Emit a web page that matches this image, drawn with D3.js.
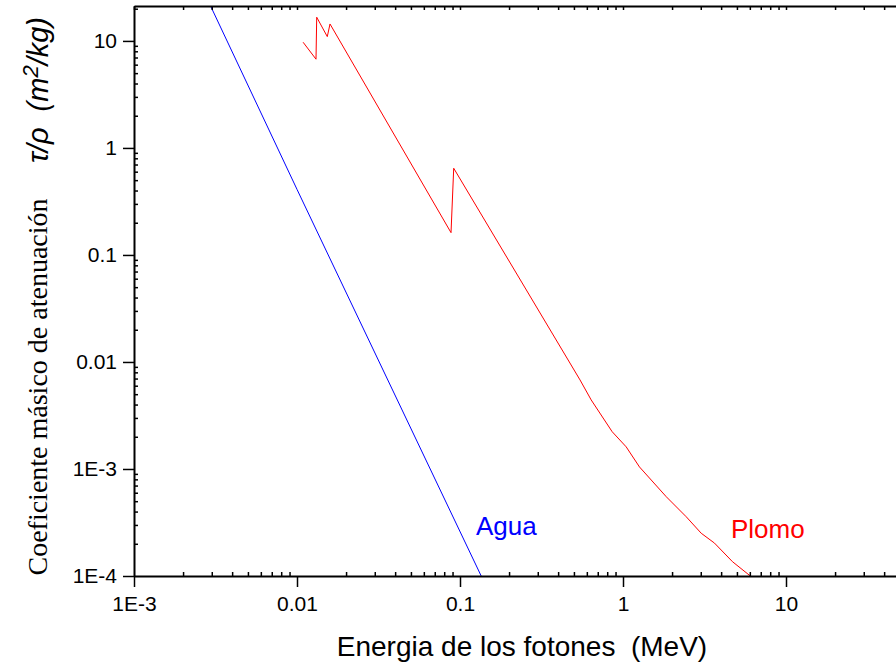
<!DOCTYPE html>
<html>
<head>
<meta charset="utf-8">
<script src="https://cdn.jsdelivr.net/npm/d3@7"></script>
<style>
  body { margin: 0; background: #fff; }
  text { font-family: "Liberation Sans", Arial, sans-serif; }
</style>
</head>
<body>
<div class="canvas"></div>
<script>
// data
const aguaEnergy = [0.00295, 0.01, 0.1349];
const aguaCoef = [21.2, 0.41, 1e-4];

const plomoEnergy = [0.0109, 0.01308, 0.01321, 0.01534, 0.01594, 0.0881, 0.0915, 0.545, 0.638,
  0.748, 0.858, 1.046, 1.262, 1.841, 2.442, 3.018, 3.641, 4.697, 6.116];
const plomoCoef = [9.72, 6.75, 16.65, 10.97, 14.4, 0.1616, 0.646, 0.00679, 0.00442,
  0.00306, 0.00223, 0.00161, 0.001045, 5.51e-4, 3.58e-4, 2.51e-4, 2.03e-4, 1.36e-4, 9.85e-5];

const xTicks = [1e-3, 1e-2, 1e-1, 1, 10];
const xTickLabels = ['1E-3', '0.01', '0.1', '1', '10'];
const yTicks = [1e-4, 1e-3, 1e-2, 1e-1, 1, 10];
const yTickLabels = ['1E-4', '1E-3', '0.01', '0.1', '1', '10'];

const width = 896;
const height = 665;
// plot frame (right side runs past the window edge)
const frame = { left: 134, right: 949, top: 6, bottom: 576 };

const svg = d3.select('.canvas').append('svg')
  .attr('width', width)
  .attr('height', height)

// scales
const x = d3.scaleLog().domain([1e-3, 100]).range([frame.left, frame.right]);
const y = d3.scaleLog().domain([1e-4, 21.2]).range([frame.bottom, frame.top]);

// minor tick values: 2..9 in each decade
const minors = (lo, hi) => {
  const out = [];
  for (let p = lo; p < hi; p++) {
    for (let m = 2; m <= 9; m++) out.push(m * Math.pow(10, p));
  }
  return out;
}
const xMinor = minors(-3, 2);
const yMinor = minors(-4, 1).concat([20]);

svg.append('clipPath').attr('id', 'plotClip')
  .append('rect')
  .attr('x', frame.left).attr('y', frame.top)
  .attr('width', frame.right - frame.left).attr('height', frame.bottom - frame.top)

// lines
const line = d3.line()
  .x(d => x(d[0]))
  .y(d => y(d[1]))

const lines = svg.append('g').attr('clip-path', 'url(#plotClip)');
lines.append('path')
  .datum(aguaEnergy.map((e, i) => [e, aguaCoef[i]]))
  .attr('fill', 'none')
  .attr('stroke', '#0000ff')
  .attr('stroke-width', 1)
  .attr('d', line)
lines.append('path')
  .datum(plomoEnergy.map((e, i) => [e, plomoCoef[i]]))
  .attr('fill', 'none')
  .attr('stroke', '#ff0000')
  .attr('stroke-width', 1)
  .attr('d', line)

// axes
const styleAxis = function(g) {
  g.selectAll('.domain').attr('stroke', '#000').attr('stroke-width', 2);
  g.selectAll('.tick line').attr('stroke', '#000').attr('stroke-width', 1.5);
  g.selectAll('.tick text').attr('fill', '#000').style('font-size', '21px')
    .style('font-family', '"Liberation Sans", Arial, sans-serif');
}

// bottom
svg.append('g')
  .attr('transform', `translate(0,${frame.bottom})`)
  .call(d3.axisBottom(x).tickValues(xMinor).tickSize(-4).tickFormat('').tickSizeOuter(0))
  .call(g => g.select('.domain').remove())
  .call(styleAxis)
svg.append('g')
  .attr('transform', `translate(0,${frame.bottom})`)
  .call(d3.axisBottom(x).tickValues(xTicks).tickSize(11).tickPadding(9).tickSizeOuter(0)
    .tickFormat((d, i) => xTickLabels[i]))
  .call(styleAxis)

// top (inner ticks only)
svg.append('g')
  .attr('transform', `translate(0,${frame.top})`)
  .call(d3.axisTop(x).tickValues(xTicks.concat(xMinor)).tickSize(-4).tickFormat('').tickSizeOuter(0))
  .call(styleAxis)

// left
svg.append('g')
  .attr('transform', `translate(${frame.left},0)`)
  .call(d3.axisLeft(y).tickValues(yMinor).tickSize(-4).tickFormat('').tickSizeOuter(0))
  .call(g => g.select('.domain').remove())
  .call(styleAxis)
svg.append('g')
  .attr('transform', `translate(${frame.left},0)`)
  .call(d3.axisLeft(y).tickValues(yTicks).tickSize(11).tickPadding(6).tickSizeOuter(0)
    .tickFormat((d, i) => yTickLabels[i]))
  .call(styleAxis)

// axis titles
svg.append('text')
  .attr('x', 522)
  .attr('y', 656)
  .attr('text-anchor', 'middle')
  .style('font-size', '28px')
  .style('white-space', 'pre')
  .text('Energia de los fotones  (MeV)')

svg.append('text')
  .attr('transform', 'translate(47,387) rotate(-90)')
  .attr('text-anchor', 'middle')
  .style('font-family', '"Liberation Serif", "Times New Roman", serif')
  .style('font-size', '28px')
  .text('Coeficiente másico de atenuación')

const unit = svg.append('text')
  .attr('transform', 'translate(48,90) rotate(-90)')
  .attr('text-anchor', 'middle')
  .style('font-size', '29px')
  .style('font-style', 'italic')
  .style('white-space', 'pre')
unit.append('tspan').text('τ/ρ  (m')
unit.append('tspan').attr('dy', '-0.45em').style('font-size', '22px').text('2')
unit.append('tspan').attr('dy', '0.34em').text('/kg)')

// series labels
svg.append('text')
  .attr('x', 476).attr('y', 535)
  .attr('fill', '#0000ff')
  .style('font-size', '26px')
  .text('Agua')
svg.append('text')
  .attr('x', 731).attr('y', 538)
  .attr('fill', '#ff0000')
  .style('font-size', '26px')
  .text('Plomo')
</script>
</body>
</html>
